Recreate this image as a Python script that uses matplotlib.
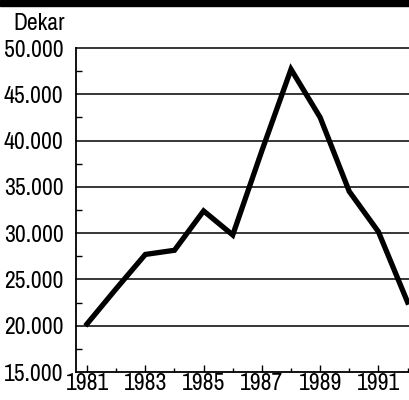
import matplotlib
matplotlib.use("Agg")
import matplotlib.pyplot as plt
from matplotlib.ticker import MultipleLocator, FixedLocator

years = [1981, 1982, 1983, 1984, 1985, 1986, 1987, 1988, 1989, 1990, 1991, 1992]
dekar = [20200, 24000, 27700, 28150, 32400, 29800, 38900, 47700, 42500, 34500, 30150, 22550]
ytick_vals = [15000, 20000, 25000, 30000, 35000, 40000, 45000, 50000]
ytick_labels = ["15.000", "20.000", "25.000", "30.000", "35.000", "40.000", "45.000", "50.000"]
xtick_vals = [1981, 1983, 1985, 1987, 1989, 1991]
unit_label = "Dekar"

plt.rcParams['font.family'] = ['Archivo Narrow', 'Liberation Sans', 'DejaVu Sans']
FS = 17

fig = plt.figure(figsize=(4.09, 4.0), dpi=100)
ax = fig.add_axes([76/409, 1-372/400, 1-76/409, (372-48)/400])

ax.plot(years, dekar, color='black', lw=3.8, solid_joinstyle='miter', zorder=3)

ax.set_xlim(1980.62, 1992.05)
ax.set_ylim(15000, 50000)

ax.set_yticks(ytick_vals)
ax.set_yticklabels(ytick_labels)
ax.yaxis.set_minor_locator(FixedLocator([v + 2500 for v in ytick_vals[:-1]]))
ax.set_xticks(xtick_vals)
ax.set_xticklabels([str(v) for v in xtick_vals])
ax.xaxis.set_minor_locator(MultipleLocator(1))

for v in ytick_vals[1:]:
    ax.axhline(v, color='black', lw=1.1, zorder=1, clip_on=False)

ax.tick_params(axis='y', which='major', length=0, pad=9, labelsize=FS)
ax.tick_params(axis='y', which='minor', direction='in', length=4, width=1)
ax.tick_params(axis='x', which='major', direction='in', length=5, width=1, pad=1, labelsize=FS)
ax.tick_params(axis='x', which='minor', direction='in', length=3, width=1)

for s in ['top', 'right']:
    ax.spines[s].set_visible(False)
for s in ['left', 'bottom']:
    ax.spines[s].set_linewidth(1.3)

fig.text(13/409, 1-24/400, unit_label, fontsize=FS, va='center', ha='left')

# black bar at top
fig.patches.append(plt.Rectangle((0, 1-6/400), 1, 6/400, transform=fig.transFigure,
                                 color='black', zorder=5))

fig.savefig("out.png", dpi=100)
